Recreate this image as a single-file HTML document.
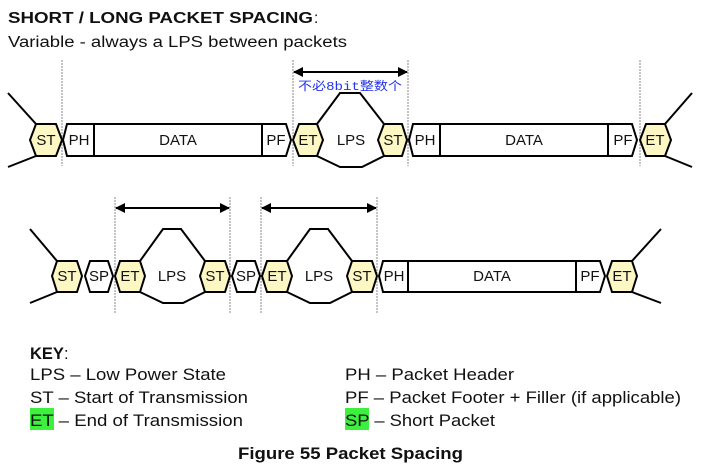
<!DOCTYPE html>
<html><head><meta charset="utf-8"><style>
html,body{margin:0;padding:0;background:#fff}
svg{display:block}
text{font-family:"Liberation Sans",Arial,sans-serif;fill:#111}
</style></head><body>
<svg width="711" height="469" viewBox="0 0 711 469" xmlns="http://www.w3.org/2000/svg">
<defs>
<marker id="ah" markerWidth="10" markerHeight="10" refX="9" refY="5" orient="auto-start-reverse" markerUnits="userSpaceOnUse"><path d="M0,0 L10,5 L0,10 z" fill="#000"/></marker>
</defs>
<text x="8" y="23" font-size="15.5" font-weight="bold" textLength="305" lengthAdjust="spacingAndGlyphs">SHORT / LONG PACKET SPACING</text>
<text x="314" y="23" font-size="15.5">:</text>
<text x="8" y="47" font-size="15.5" textLength="339" lengthAdjust="spacingAndGlyphs">Variable - always a LPS between packets</text>

<g stroke="#888" stroke-width="1" stroke-dasharray="2,1">
<line x1="62" y1="60" x2="62" y2="166"/><line x1="293" y1="60" x2="293" y2="166"/>
<line x1="408" y1="60" x2="408" y2="166"/><line x1="640" y1="60" x2="640" y2="166"/>
<line x1="115" y1="197" x2="115" y2="313"/><line x1="230" y1="197" x2="230" y2="313"/>
<line x1="261" y1="197" x2="261" y2="313"/><line x1="377" y1="197" x2="377" y2="313"/>
</g>

<g stroke="#000" stroke-width="2" fill="none">
<line x1="294" y1="72" x2="407" y2="72" marker-start="url(#ah)" marker-end="url(#ah)"/>
<line x1="116" y1="208" x2="229" y2="208" marker-start="url(#ah)" marker-end="url(#ah)"/>
<line x1="262" y1="208" x2="376" y2="208" marker-start="url(#ah)" marker-end="url(#ah)"/>
<polyline points="8,93 36,124"/><polyline points="36,156 8,167"/>
<polyline points="317,124 340,93 360,93 384,124"/><polyline points="317,156 340,167 362,167 384,156"/>
<polyline points="665,124 692,93"/><polyline points="665,156 692,167"/>
<polyline points="30,229 57,261"/><polyline points="57,292 30,303"/>
<polyline points="140,261 163,229 181,229 205,261"/><polyline points="140,292 163,303 183,303 205,292"/>
<polyline points="287,261 310,229 328,229 352,261"/><polyline points="287,292 310,303 330,303 352,292"/>
<polyline points="632,261 661,229"/><polyline points="632,292 661,303"/>
</g>
<text x="298" y="90" font-size="12" style="fill:#2233ee;font-family:'Liberation Mono','Noto Sans CJK SC',monospace" textLength="104" lengthAdjust="spacingAndGlyphs">不必8bit整数个</text>

<g stroke="#000" stroke-width="2">
<polygon points="30,140 36,124 56,124 62,140 56,156 36,156" fill="#fdf7c3"/>
<polygon points="63,140 67,124 94,124 94,156 67,156" fill="#fff"/>
<rect x="94" y="124" width="168" height="32" fill="#fff"/>
<polygon points="262,124 286,124 291,140 286,156 262,156" fill="#fff"/>
<polygon points="293,140 299,124 317,124 323,140 317,156 299,156" fill="#fdf7c3"/>
<polygon points="378,140 384,124 402,124 407,140 402,156 384,156" fill="#fdf7c3"/>
<polygon points="409,140 413,124 440,124 440,156 413,156" fill="#fff"/>
<rect x="440" y="124" width="168" height="32" fill="#fff"/>
<polygon points="608,124 632,124 637,140 632,156 608,156" fill="#fff"/>
<polygon points="640,140 646,124 665,124 671,140 665,156 646,156" fill="#fdf7c3"/>
<polygon points="52,276 57,261 77,261 82,276 77,292 57,292" fill="#fdf7c3"/>
<polygon points="85,276 90,261 108,261 113,276 108,292 90,292" fill="#fff"/>
<polygon points="115,276 120,261 140,261 145,276 140,292 120,292" fill="#fdf7c3"/>
<polygon points="200,276 205,261 225,261 230,276 225,292 205,292" fill="#fdf7c3"/>
<polygon points="232,276 237,261 255,261 260,276 255,292 237,292" fill="#fff"/>
<polygon points="262,276 267,261 287,261 292,276 287,292 267,292" fill="#fdf7c3"/>
<polygon points="347,276 352,261 372,261 377,276 372,292 352,292" fill="#fdf7c3"/>
<polygon points="379,276 383,261 408,261 408,292 383,292" fill="#fff"/>
<rect x="408" y="261" width="168" height="31" fill="#fff"/>
<polygon points="576,261 600,261 605,276 600,292 576,292" fill="#fff"/>
<polygon points="607,276 612,261 632,261 637,276 632,292 612,292" fill="#fdf7c3"/>
</g>

<g font-size="15" text-anchor="middle">
<text x="46" y="145">ST</text><text x="79" y="145">PH</text><text x="178" y="145">DATA</text>
<text x="276" y="145">PF</text><text x="308" y="145">ET</text><text x="351" y="145">LPS</text>
<text x="393" y="145">ST</text><text x="425" y="145">PH</text><text x="524" y="145">DATA</text>
<text x="623" y="145">PF</text><text x="655" y="145">ET</text>
<text x="67" y="281">ST</text><text x="99" y="281">SP</text><text x="130" y="281">ET</text>
<text x="172" y="281">LPS</text><text x="215" y="281">ST</text><text x="246" y="281">SP</text>
<text x="277" y="281">ET</text><text x="319" y="281">LPS</text><text x="362" y="281">ST</text>
<text x="394" y="281">PH</text><text x="492" y="281">DATA</text><text x="590" y="281">PF</text>
<text x="622" y="281">ET</text>
</g>

<rect x="30" y="408" width="24" height="22" fill="#3ef03e"/>
<rect x="345" y="408" width="24" height="22" fill="#3ef03e"/>
<g font-size="16.5">
<text x="30" y="359" font-weight="bold">KEY<tspan font-weight="normal">:</tspan></text>
<text x="30" y="380" textLength="196" lengthAdjust="spacingAndGlyphs">LPS – Low Power State</text>
<text x="30" y="403" textLength="218" lengthAdjust="spacingAndGlyphs">ST – Start of Transmission</text>
<text x="30" y="426" textLength="213" lengthAdjust="spacingAndGlyphs">ET – End of Transmission</text>
<text x="345" y="380" textLength="169" lengthAdjust="spacingAndGlyphs">PH – Packet Header</text>
<text x="345" y="403" textLength="336" lengthAdjust="spacingAndGlyphs">PF – Packet Footer + Filler (if applicable)</text>
<text x="345" y="426" textLength="150" lengthAdjust="spacingAndGlyphs">SP – Short Packet</text>
<text x="238" y="459" font-weight="bold" textLength="225" lengthAdjust="spacingAndGlyphs">Figure 55 Packet Spacing</text>
</g>
</svg>
</body></html>
